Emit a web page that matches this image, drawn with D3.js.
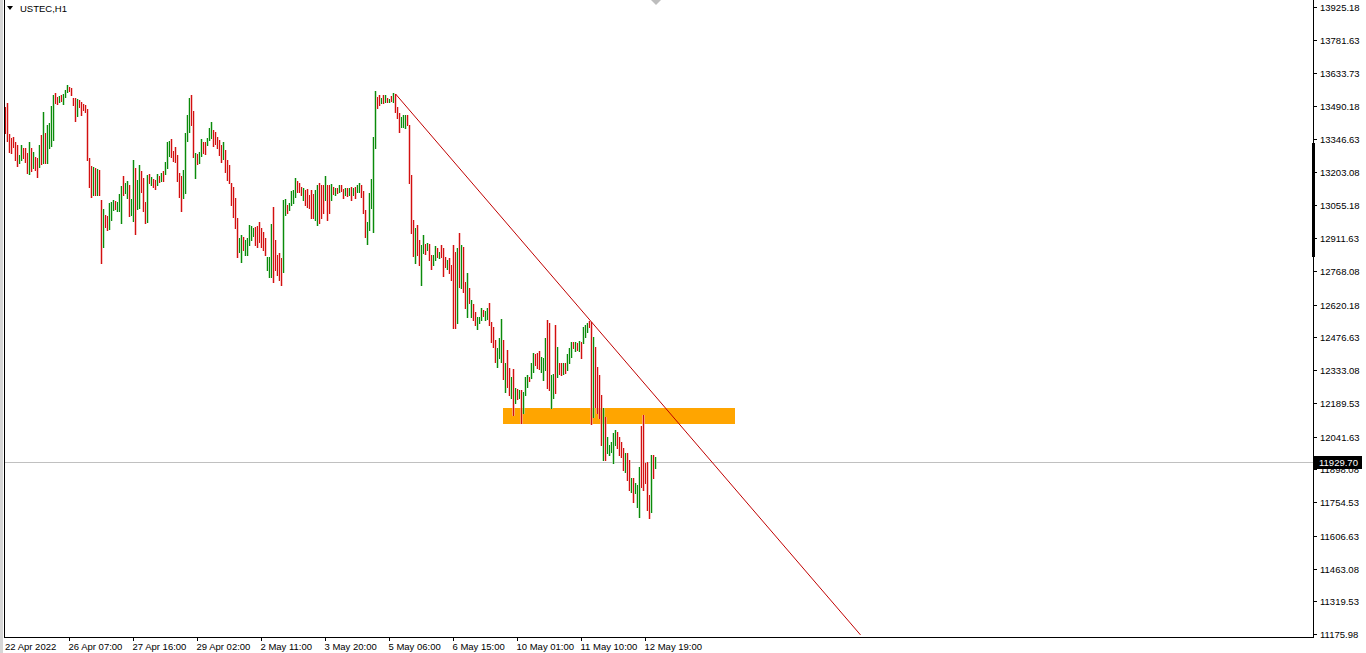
<!DOCTYPE html>
<html><head><meta charset="utf-8">
<script src="https://cdn.jsdelivr.net/npm/d3@7/dist/d3.min.js"></script>
<style>html,body{margin:0;padding:0;background:#fff;overflow:hidden}svg{display:block}text{font-family:"Liberation Sans",Arial,sans-serif}</style>
</head><body>
<svg id="c" width="1366" height="653"></svg>
<script>
// ---------- DATA ----------
const symbol = "USTEC,H1";
const highs = [13487,13504,13368,13351,13355,13333,13320,13276,13320,13307,
13307,13285,13333,13307,13289,13267,13263,13320,13364,13465,
13373,13408,13417,13491,13539,13548,13531,13535,13539,13544,
13561,13583,13574,13570,13526,13526,13522,13517,13509,13500,
13495,13478,13263,13228,13224,13219,13215,13210,13079,13039,
13013,13009,13066,13070,13079,13075,13070,13105,13140,13184,
13153,13162,13145,13083,13254,13219,13167,13232,13206,13175,
13070,13188,13193,13180,13171,13167,13193,13184,13197,13206,
13246,13333,13338,13346,13294,13311,13276,13197,13184,13210,
13373,13452,13526,13539,13469,13285,13281,13289,13346,13333,
13333,13351,13395,13421,13386,13377,13355,13342,13320,13333,
13298,13254,13232,13153,13136,13088,13000,12912,12925,12917,
12904,12912,12969,12965,12956,12960,12965,12982,12956,12939,
12912,12829,12829,12974,13048,12904,12838,12847,12825,13079,
13083,13057,13066,13118,13123,13175,13162,13153,13136,13132,
13123,13127,13101,13123,13105,13123,13145,13153,13145,13145,
13184,13145,13145,13149,13136,13132,13132,13145,13145,13127,
13132,13132,13132,13136,13132,13136,13145,13153,13145,13118,
13035,12982,13110,13171,13355,13557,13531,13539,13526,13539,
13539,13526,13522,13535,13548,13544,13487,13460,13443,13452,
13452,13452,13408,13188,12991,12956,12969,12904,12882,12925,
12886,12890,12886,12838,12838,12877,12869,12851,12882,12869,
12829,12816,12825,12794,12882,12851,12869,12934,12882,12873,
12719,12759,12693,12640,12623,12588,12566,12566,12605,12597,
12592,12605,12627,12544,12522,12465,12430,12474,12557,12465,
12364,12421,12342,12303,12338,12254,12250,12246,12246,12237,
12303,12312,12303,12364,12408,12404,12408,12417,12390,12386,
12474,12553,12540,12312,12316,12531,12434,12364,12364,12364,
12364,12404,12430,12456,12456,12456,12452,12461,12456,12522,
12531,12540,12548,12544,12478,12434,12347,12312,12224,12167,
12127,12040,12005,12018,12057,12070,12062,12040,12018,11992,
11969,11969,11939,11860,11860,11838,11829,11908,12088,12136,
11926,11930,11785,11961,11961,11952];
const lows = [13373,13338,13289,13285,13311,13254,13228,13241,13254,13263,
13246,13197,13193,13206,13219,13210,13180,13224,13237,13241,
13241,13241,13307,13316,13342,13504,13500,13509,13513,13500,
13531,13552,13557,13539,13495,13425,13447,13487,13452,13474,
13465,13254,13136,13092,13101,13101,13101,13101,12803,12873,
12960,12947,12952,12991,13035,13039,13031,13031,12978,13101,
13110,13088,13009,13013,12987,12930,13039,13044,13114,13031,
12978,12982,13153,13145,13136,13127,13145,13158,13162,13162,
13193,13219,13272,13267,13250,13246,13162,13092,13031,13088,
13110,13338,13377,13408,13267,13175,13237,13241,13272,13285,
13281,13320,13342,13351,13316,13324,13307,13276,13246,13259,
13202,13167,13153,13057,13004,12956,12829,12851,12807,12860,
12838,12838,12882,12904,12921,12882,12873,12895,12873,12860,
12838,12772,12741,12741,12719,12772,12750,12728,12706,12763,
13013,13022,13035,13057,13066,13092,13114,13114,13101,13079,
13057,13048,13044,13000,13000,12991,12969,12978,13000,13022,
13079,12991,13022,13079,13105,13101,13110,13114,13118,13088,
13101,13096,13101,13079,13101,13088,13114,13114,13092,13022,
12917,12886,12947,13044,12939,13307,13482,13495,13504,13504,
13509,13509,13509,13513,13509,13465,13438,13377,13399,13399,
13395,13408,13153,12934,12833,12803,12838,12794,12706,12847,
12842,12860,12816,12776,12794,12816,12829,12825,12829,12746,
12785,12776,12759,12728,12517,12517,12540,12697,12693,12675,
12605,12566,12627,12566,12553,12531,12513,12540,12553,12570,
12553,12557,12531,12456,12434,12369,12347,12386,12369,12294,
12237,12259,12224,12211,12136,12189,12206,12211,12101,12145,
12224,12259,12285,12298,12325,12355,12342,12338,12325,12290,
12334,12254,12246,12167,12211,12233,12303,12316,12312,12316,
12320,12334,12364,12390,12430,12417,12421,12417,12386,12452,
12478,12500,12522,12097,12127,12171,12145,12123,12005,11939,
11939,11969,11961,11974,11926,12005,11992,11961,11952,11895,
11886,11851,11807,11798,11755,11794,11733,11689,11820,11807,
11838,11720,11684,11711,11860,11904];
const barDir = ("ddddddduud"+"ddududdudu"+"duuuuddudu"+"uudddduddd"+"ddddududdu"+
"dduuuduuud"+"uuduuduudd"+"dududdudud"+"uuuddddddu"+"uuudduduud"+
"duuudddddu"+"ddddddduud"+"uuuuuddddd"+"duuudddddu"+"uduuuudddu"+
"ddddduuddd"+"uddudududd"+"udududuudd"+"duuuuuddud"+"udududdduu"+
"uddddudduu"+"dudduududd"+"duddddudud"+"dududduuud"+"uudddduuud"+
"uddudududu"+"uuduuddduu"+"udduududdu"+"duuudududu"+"uudduddddu"+
"duuuuudddd"+"udduduuudd"+"dddudu").split("");
const lastPrice = 11929.70;
const priceTicks = [13925.18,13781.63,13633.73,13490.18,13346.63,13203.08,13055.18,12911.63,12768.08,12620.18,12476.63,12333.08,12189.53,12041.63,11898.08,11754.53,11606.63,11463.08,11319.53,11175.98];
const timeTickBars = [0,32,64,96,128,160,192,224,256,288,320];
const timeTickLabels = ["22 Apr 2022","26 Apr 07:00","27 Apr 16:00","29 Apr 02:00","2 May 11:00","3 May 20:00","5 May 06:00","6 May 15:00","10 May 01:00","11 May 10:00","12 May 19:00"];
const trendBars = [195, 427.5];
const trendPrices = [13544, 11172];
const zoneBars = [249, 365];
const zonePrices = [12167, 12097];

// ---------- LAYOUT ----------
const W = 1366, H = 653;
const L = 4, R = 1313, T = 0, B = 637;
const svg = d3.select("#c");
const n = highs.length;
const idx = d3.range(n);
const x = d3.scaleLinear().domain([0, n - 1]).range([5.5, 5.5 + 2 * (n - 1)]);
const y = d3.scaleLinear().domain([11175.98, 13925.18]).range([634, 7]);
const colorCore = {u: "#0b8a0b", d: "#d21010"};
const colorHalo = {u: "#a6d8a6", d: "#f2a8a8"};

svg.append("rect").attr("width", W).attr("height", H).attr("fill", "#fff");
svg.append("rect").attr("x", 0).attr("y", 0).attr("width", 3).attr("height", H).attr("fill", "#d6d6d6");

svg.append("defs").append("clipPath").attr("id", "plot")
  .append("rect").attr("x", L + 1).attr("y", T).attr("width", R - L - 1).attr("height", B - T);
const plot = svg.append("g").attr("clip-path", "url(#plot)");

// orange zone
plot.append("rect")
  .attr("x", x(zoneBars[0]) - 0.5).attr("width", x(zoneBars[1]) - x(zoneBars[0]))
  .attr("y", Math.round(y(zonePrices[0]))).attr("height", Math.round(y(zonePrices[1]) - y(zonePrices[0])))
  .attr("fill", "#ffa500");

// last price line
plot.append("line").attr("x1", L).attr("x2", R)
  .attr("y1", Math.round(y(lastPrice)) + 0.5).attr("y2", Math.round(y(lastPrice)) + 0.5)
  .attr("stroke", "#c0c0c0").attr("stroke-width", 1);

// bars: soft halo under a 1px core (as in the screenshot rendering)
const barG = plot.append("g").attr("shape-rendering", "crispEdges");
barG.append("g").attr("opacity", 0.65).selectAll("rect").data(idx).join("rect")
  .attr("x", i => x(i) - 1.5).attr("width", 3)
  .attr("y", i => Math.round(y(highs[i])))
  .attr("height", i => Math.round(y(lows[i])) - Math.round(y(highs[i])) + 1)
  .attr("fill", i => colorHalo[barDir[i]]);
barG.append("g").selectAll("rect").data(idx).join("rect")
  .attr("x", i => x(i) - 0.5).attr("width", 1)
  .attr("y", i => Math.round(y(highs[i])))
  .attr("height", i => Math.round(y(lows[i])) - Math.round(y(highs[i])) + 1)
  .attr("fill", i => colorCore[barDir[i]]);

// trend line
plot.append("line")
  .attr("x1", x(trendBars[0])).attr("y1", y(trendPrices[0]))
  .attr("x2", x(trendBars[1])).attr("y2", y(trendPrices[1]))
  .attr("stroke", "#c00000").attr("stroke-width", 1);

// frame
svg.append("line").attr("x1", L + 0.5).attr("x2", L + 0.5).attr("y1", 0).attr("y2", B).attr("stroke", "#000");
svg.append("line").attr("x1", R + 0.5).attr("x2", R + 0.5).attr("y1", 0).attr("y2", B + 1).attr("stroke", "#000");
svg.append("line").attr("x1", L).attr("x2", R + 1).attr("y1", B + 0.5).attr("y2", B + 0.5).attr("stroke", "#000");

// shift marker
svg.append("path").attr("d", "M651,0 L661,0 L656,5 Z").attr("fill", "#bdbdbd");

// right price axis
const yAxis = svg.append("g");
priceTicks.forEach(p => {
  const yy = Math.round(y(p)) + 0.5;
  yAxis.append("line").attr("x1", R).attr("x2", R + 4).attr("y1", yy).attr("y2", yy).attr("stroke", "#000");
  yAxis.append("text").attr("x", 1320).attr("y", yy).attr("dy", "0.35em")
    .attr("font-size", "9.5px").attr("fill", "#000").text(p.toFixed(2));
});
svg.append("rect").attr("x", R - 1).attr("y", 143).attr("width", 3).attr("height", 114).attr("fill", "#000");

// last price label
const ly = Math.round(y(lastPrice));
svg.append("rect").attr("x", R + 1).attr("y", ly - 6).attr("width", 48).attr("height", 13).attr("fill", "#000");
svg.append("text").attr("x", 1319).attr("y", ly + 0.5).attr("dy", "0.35em")
  .attr("font-size", "9.5px").attr("fill", "#fff").text(lastPrice.toFixed(2));

// bottom time axis
const xAxis = svg.append("g");
timeTickBars.forEach((b, k) => {
  const xx = x(b);
  if (k > 0) xAxis.append("line").attr("x1", xx).attr("x2", xx).attr("y1", B).attr("y2", B + 4).attr("stroke", "#000");
  xAxis.append("text").attr("x", k === 0 ? 5 : xx - 1).attr("y", 650)
    .attr("font-size", "9.5px").attr("fill", "#000").text(timeTickLabels[k]);
});

// title
svg.append("path").attr("d", "M7,6 L13,6 L10,10 Z").attr("fill", "#000");
svg.append("text").attr("x", 20).attr("y", 12).attr("font-size", "9.5px").attr("fill", "#000").text(symbol);
</script>
</body></html>
